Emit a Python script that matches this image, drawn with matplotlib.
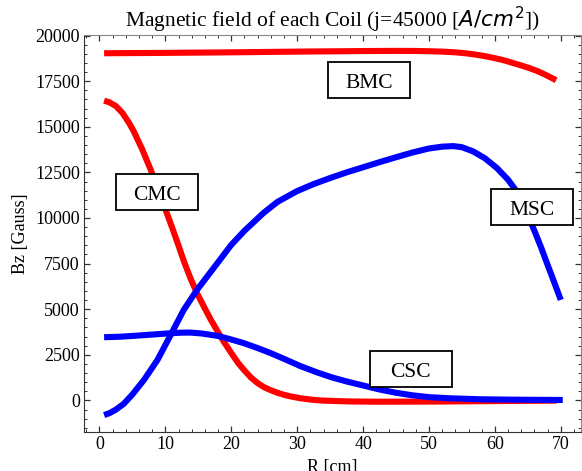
import matplotlib
matplotlib.use("Agg")
import matplotlib.pyplot as plt
from matplotlib.patches import Rectangle
from matplotlib.ticker import MultipleLocator

plt.rcParams['font.family'] = ['Liberation Serif', 'DejaVu Serif']
plt.rcParams['mathtext.fontset'] = 'dejavusans'

# ---- data ----
r_bmc = [0.7, 10, 20, 30, 40, 45, 48, 50, 52, 54, 55.5, 57, 58.5, 60, 61.5, 62.7, 64, 65.2, 66.4,
         67.5, 68.5, 69.3]
bz_bmc = [19030, 19050, 19080, 19120, 19150, 19160, 19155, 19140, 19120, 19080, 19030, 18960, 18870,
          18760, 18630, 18500, 18360, 18220, 18060, 17880, 17700, 17550]

r_cmc = [0.7, 1.5, 2.5, 3.5, 4.5, 5.2, 6.5, 7.8, 9, 9.8, 11, 12, 12.8, 13.8, 14.8, 16, 16.9, 18,
         18.9, 20, 21, 21.9, 23, 24, 25, 26, 27, 28, 29, 30.5, 32, 33.5, 35.6, 38, 42, 48, 55, 62, 69.4]
bz_cmc = [16430, 16340, 16130, 15750, 15200, 14750, 13750, 12620, 11480, 10680, 9500, 8480, 7640,
          6700, 5880, 5030, 4420, 3740, 3200, 2600, 2070, 1680, 1250, 950, 720, 560, 420, 310, 220,
          120, 50, 0, -30, -55, -70, -65, -50, -30, -10]

r_msc = [0.7, 1.5, 2.5, 3.7, 5, 6.75, 8.8, 10.8, 12.8, 14.8, 16, 17.9, 20, 22, 24.9, 27, 29.9, 32.5,
         35, 37.5, 40, 42.5, 45, 47.5, 50, 52, 53.7, 55, 56.7, 58.5, 60.3, 62, 63.3, 64.6, 66, 67,
         67.9, 69, 70]
bz_msc = [-800, -700, -500, -180, 330, 1125, 2220, 3590, 4970, 6060, 6630, 7530, 8530, 9300, 10280,
          10880, 11460, 11860, 12190, 12500, 12780, 13060, 13330, 13590, 13810, 13910, 13940, 13880,
          13650, 13270, 12740, 12100, 11460, 10470, 9300, 8400, 7530, 6480, 5510]

r_csc = [0.7, 3, 5.2, 8, 10.8, 12.5, 13.8, 15.5, 17.9, 20, 21.9, 24, 26, 28, 30.5, 33, 35.3, 37.5,
         40, 42.5, 45, 47.5, 50, 53, 57.7, 62, 66, 70.3]
bz_csc = [3466, 3490, 3540, 3610, 3685, 3715, 3720, 3670, 3540, 3340, 3140, 2870, 2590, 2280, 1880,
          1540, 1260, 1040, 820, 600, 420, 280, 180, 120, 65, 45, 33, 27]

labels = ["BMC", "CMC", "MSC", "CSC"]
label_r = [40.9, 8.8, 65.6, 47.2]
label_bz = [17558, 11413, 10600, 1712]

title = r"Magnetic field of each Coil (j=45000 [$A/cm^2$])"
xlabel = "R [cm]"
ylabel = "Bz [Gauss]"
xticks = [0, 10, 20, 30, 40, 50, 60, 70]
yticks = [0, 2500, 5000, 7500, 10000, 12500, 15000, 17500, 20000]

# ---- figure ----
fig = plt.figure(figsize=(5.82, 4.71), dpi=100)
ax = fig.add_axes([84 / 582, 1 - 432 / 471, (581 - 84) / 582, (432 - 35) / 471])

lw = 4.4
ax.plot(r_bmc, bz_bmc, color='#ff0000', lw=lw, solid_capstyle='butt', solid_joinstyle='round', zorder=3)
ax.plot(r_cmc, bz_cmc, color='#ff0000', lw=lw, solid_capstyle='butt', solid_joinstyle='round', zorder=3)
ax.plot(r_msc, bz_msc, color='#0000ff', lw=lw, solid_capstyle='butt', solid_joinstyle='round', zorder=4)
ax.plot(r_csc, bz_csc, color='#0000ff', lw=lw, solid_capstyle='butt', solid_joinstyle='round', zorder=4)

ax.set_xlim(-2.35, 73.07)
ax.set_ylim(-1730, 20030)

# label boxes (82 x 36 px)
xpx = 6.59      # px per cm
ypx = 45.56 / 2500  # px per Gauss
bw, bh = 82 / xpx, 36 / ypx
for lab, rx, by in zip(labels, label_r, label_bz):
    ax.add_patch(Rectangle((rx - bw / 2, by - bh / 2), bw, bh, fc='white', ec='black',
                           lw=1.3, zorder=6))
    ax.text(rx, by - 7.5 / ypx, lab, ha='center', va='baseline', fontsize=15.5, zorder=7)

ax.set_xticks(xticks)
ax.set_yticks(yticks)
ax.set_yticklabels([str(v) for v in yticks])
ax.xaxis.set_minor_locator(MultipleLocator(2))
ax.yaxis.set_minor_locator(MultipleLocator(500))
ax.tick_params(which='both', direction='in', top=True, right=True, labelsize=13,
               color='#333333', pad=3)
ax.tick_params(which='major', length=4, width=0.9)
ax.tick_params(which='minor', length=2.2, width=0.7)
for side in ['left', 'bottom']:
    ax.spines[side].set_color('#333333')
for side in ['top', 'right']:
    ax.spines[side].set_color('#888888')

ax.set_title(title, fontsize=15.5, pad=4)
ax.set_xlabel(xlabel, fontsize=13, labelpad=4)
ax.set_ylabel(ylabel, fontsize=13, labelpad=4)

fig.savefig("out.png", dpi=100)
